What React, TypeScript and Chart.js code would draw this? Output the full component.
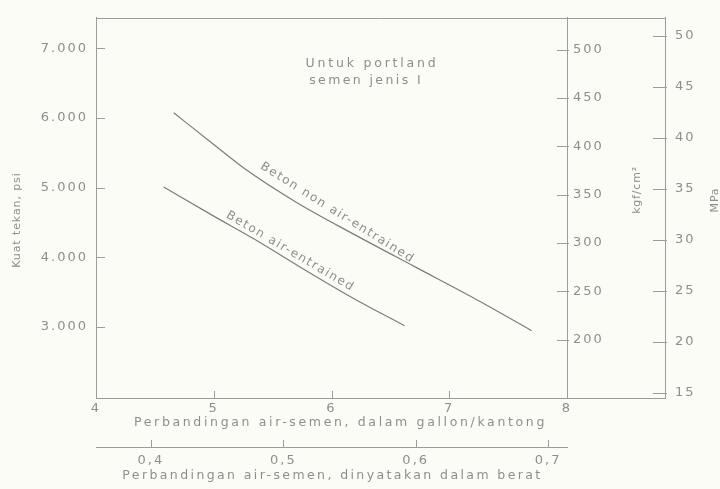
import React, { useEffect, useRef } from "react";
import { Chart, registerables } from "chart.js";

Chart.register(...registerables);

// ---- data ----
const gallonTicks = [4, 5, 6, 7, 8];
const wcTicks = [0.4, 0.5, 0.6, 0.7];
const psiTicks = [3000, 4000, 5000, 6000, 7000];
const kgfTicks = [200, 250, 300, 350, 400, 450, 500];
const mpaTicks = [15, 20, 25, 30, 35, 40, 45, 50];

// Beton non air-entrained (gallon/kantong -> psi)
const nonAirX = [4.66, 5.0, 5.27, 5.7, 6.18, 6.71, 7.2, 7.7];
const nonAirPsi = [6075, 5620, 5263, 4790, 4338, 3860, 3420, 2943];

// Beton air-entrained
const airX = [4.575, 5.0, 5.336, 5.75, 6.18, 6.62];
const airPsi = [5007, 4590, 4267, 3840, 3413, 3014];

// axis bounds
const X_MIN = 4;
const X_MAX = 8;
const WC_MIN = 0.3585;
const WC_MAX = 0.7143;
const PSI_MIN = 1975;
const PSI_MAX = 7441;
const KGF_MIN = 139.6;
const KGF_MAX = 532.8;
const MPA_MIN = 14.52;
const MPA_MAX = 51.75;

// ---- styles ----
const BG = "#fcfcf6";
const AXIS = "#9c9c9c";
const CURVE = "#7c7c7c";
const TEXT = "#8e8e8e";
const FAMILY = "'DejaVu Sans', 'Liberation Sans', sans-serif";

const fmtThousands = (v: number) =>
  `${Math.floor(v / 1000)}.${String(Math.round(v % 1000)).padStart(3, "0")}`;
const fmtComma = (v: number) => v.toFixed(1).replace(".", ",");

const decor = {
  id: "decor",
  beforeDraw(chart: any) {
    const { ctx, width, height } = chart;
    ctx.save();
    ctx.fillStyle = BG;
    ctx.fillRect(0, 0, width, height);
    ctx.restore();
    ctx.letterSpacing = "2px";
  },
  afterDraw(chart: any) {
    const { ctx, chartArea: ca, scales } = chart;
    ctx.save();
    ctx.letterSpacing = "0px";
    ctx.strokeStyle = AXIS;
    ctx.lineWidth = 1;
    const line = (x1: number, y1: number, x2: number, y2: number) => {
      ctx.beginPath();
      ctx.moveTo(x1, y1);
      ctx.lineTo(x2, y2);
      ctx.stroke();
    };
    const y3 = scales.y3;
    const x2s = scales.x2;
    // frame lines
    line(ca.left, Math.round(ca.top) + 0.5, y3.left, Math.round(ca.top) + 0.5);
    line(ca.right, Math.round(ca.bottom) + 0.5, y3.left, Math.round(ca.bottom) + 0.5);

    // inward ticks
    for (const t of scales.x.ticks) {
      const p = Math.round(scales.x.getPixelForValue(t.value)) + 0.5;
      line(p, ca.bottom, p, ca.bottom - 7);
    }
    for (const t of x2s.ticks) {
      const p = Math.round(x2s.getPixelForValue(t.value)) + 0.5;
      line(p, x2s.top, p, x2s.top - 7);
    }
    for (const t of scales.y.ticks) {
      const p = Math.round(scales.y.getPixelForValue(t.value)) + 0.5;
      line(ca.left, p, ca.left + 9, p);
    }
    for (const t of scales.y2.ticks) {
      const p = Math.round(scales.y2.getPixelForValue(t.value)) + 0.5;
      line(ca.right - 10, p, ca.right + 2, p);
    }
    for (const t of y3.ticks) {
      const p = Math.round(y3.getPixelForValue(t.value)) + 0.5;
      line(y3.left - 12, p, y3.left + 2, p);
    }

    const text = (
      s: string,
      x: number,
      y: number,
      angle: number,
      size: number,
      spacing: number,
      align: string = "center"
    ) => {
      ctx.save();
      ctx.translate(x, y);
      ctx.rotate((angle * Math.PI) / 180);
      ctx.font = `${size}px ${FAMILY}`;
      ctx.letterSpacing = `${spacing}px`;
      ctx.textAlign = align;
      ctx.textBaseline = "middle";
      ctx.fillStyle = TEXT;
      ctx.fillText(s, 0, 0);
      ctx.restore();
    };

    const xs = scales.x;
    const ys = scales.y;
    // axis titles
    text("Perbandingan air-semen, dalam gallon/kantong", (xs.left + xs.right) / 2 + 9, xs.top + 25, 0, 12.5, 2.65);
    text("Perbandingan air-semen, dinyatakan dalam berat", (xs.left + xs.right) / 2 + 1, x2s.top + 29, 0, 12.5, 2.4);
    text("Kuat tekan, psi", ys.left + 17, 220, -90, 11, 0.9);
    text("kgf/cm²", scales.y2.left + 70, 190, -90, 11, 0.8);
    text("MPa", y3.left + 50, 200, -90, 11, 0.8);

    // annotations
    text("Untuk portland", xs.getPixelForValue(5.78), ys.getPixelForValue(6780), 0, 12.5, 2.8, "left");
    text("semen jenis I", xs.getPixelForValue(5.81), ys.getPixelForValue(6530), 0, 12.5, 2.4, "left");
    text("Beton non air-entrained", xs.getPixelForValue(6.05), ys.getPixelForValue(4637), 32, 12, 1.6);
    text("Beton air-entrained", xs.getPixelForValue(5.65), ys.getPixelForValue(4082), 30.5, 12, 1.6);
    ctx.restore();
  },
};

export default function App() {
  const ref = useRef<HTMLCanvasElement | null>(null);

  useEffect(() => {
    document.body.style.margin = "0";
    const canvas = ref.current;
    if (!canvas) return;
    Chart.defaults.font.family = FAMILY;
    Chart.defaults.font.size = 13;
    Chart.defaults.color = TEXT;

    const tickOpts = (padding: number, cb: (v: number) => string) => ({
      padding,
      color: TEXT,
      font: { family: FAMILY, size: 13 },
      callback: (v: any) => cb(Number(v)),
    });
    const borderOpts = { display: true, color: AXIS, width: 1 };
    const gridOpts = { display: false, drawTicks: false };

    const chart = new Chart(canvas, {
      type: "line",
      data: {
        datasets: [
          {
            label: "Beton non air-entrained",
            data: nonAirX.map((x, i) => ({ x, y: nonAirPsi[i] })),
            borderColor: CURVE,
            borderWidth: 1.2,
            pointRadius: 0,
            cubicInterpolationMode: "monotone",
            xAxisID: "x",
            yAxisID: "y",
          },
          {
            label: "Beton air-entrained",
            data: airX.map((x, i) => ({ x, y: airPsi[i] })),
            borderColor: CURVE,
            borderWidth: 1.2,
            pointRadius: 0,
            cubicInterpolationMode: "monotone",
            xAxisID: "x",
            yAxisID: "y",
          },
        ],
      },
      options: {
        animation: false,
        responsive: false,
        maintainAspectRatio: false,
        layout: { padding: { top: 14, left: 0, right: 0, bottom: 0 } },
        plugins: { legend: { display: false }, tooltip: { enabled: false } },
        scales: {
          x: {
            type: "linear",
            position: "bottom",
            weight: 0,
            min: X_MIN,
            max: X_MAX,
            grid: gridOpts,
            border: borderOpts,
            ticks: tickOpts(3, (v) => String(v)),
            afterBuildTicks: (s: any) => {
              s.ticks = gallonTicks.map((v) => ({ value: v }));
            },
            afterFit: (s: any) => {
              s.height = 49;
            },
          },
          x2: {
            type: "linear",
            position: "bottom",
            weight: 1,
            min: WC_MIN,
            max: WC_MAX,
            grid: gridOpts,
            border: borderOpts,
            ticks: tickOpts(6, fmtComma),
            afterBuildTicks: (s: any) => {
              s.ticks = wcTicks.map((v) => ({ value: v }));
            },
            afterFit: (s: any) => {
              s.height = 42;
            },
          },
          y: {
            type: "linear",
            position: "left",
            min: PSI_MIN,
            max: PSI_MAX,
            grid: gridOpts,
            border: borderOpts,
            ticks: tickOpts(8, fmtThousands),
            afterBuildTicks: (s: any) => {
              s.ticks = psiTicks.map((v) => ({ value: v }));
            },
            afterFit: (s: any) => {
              s.width = 96;
            },
          },
          y2: {
            type: "linear",
            position: "right",
            weight: 0,
            min: KGF_MIN,
            max: KGF_MAX,
            grid: gridOpts,
            border: borderOpts,
            ticks: tickOpts(6, (v) => String(v)),
            afterBuildTicks: (s: any) => {
              s.ticks = kgfTicks.map((v) => ({ value: v }));
            },
            afterFit: (s: any) => {
              s.width = 98;
            },
          },
          y3: {
            type: "linear",
            position: "right",
            weight: 1,
            min: MPA_MIN,
            max: MPA_MAX,
            grid: gridOpts,
            border: borderOpts,
            ticks: tickOpts(10, (v) => String(v)),
            afterBuildTicks: (s: any) => {
              s.ticks = mpaTicks.map((v) => ({ value: v }));
            },
            afterFit: (s: any) => {
              s.width = 55;
            },
          },
        },
      } as any,
      plugins: [decor as any],
    });
    return () => chart.destroy();
  }, []);

  return (
    <div style={{ width: 720, height: 489 }}>
      <canvas ref={ref} width={720} height={489} style={{ display: "block", width: 720, height: 489 }} />
    </div>
  );
}
